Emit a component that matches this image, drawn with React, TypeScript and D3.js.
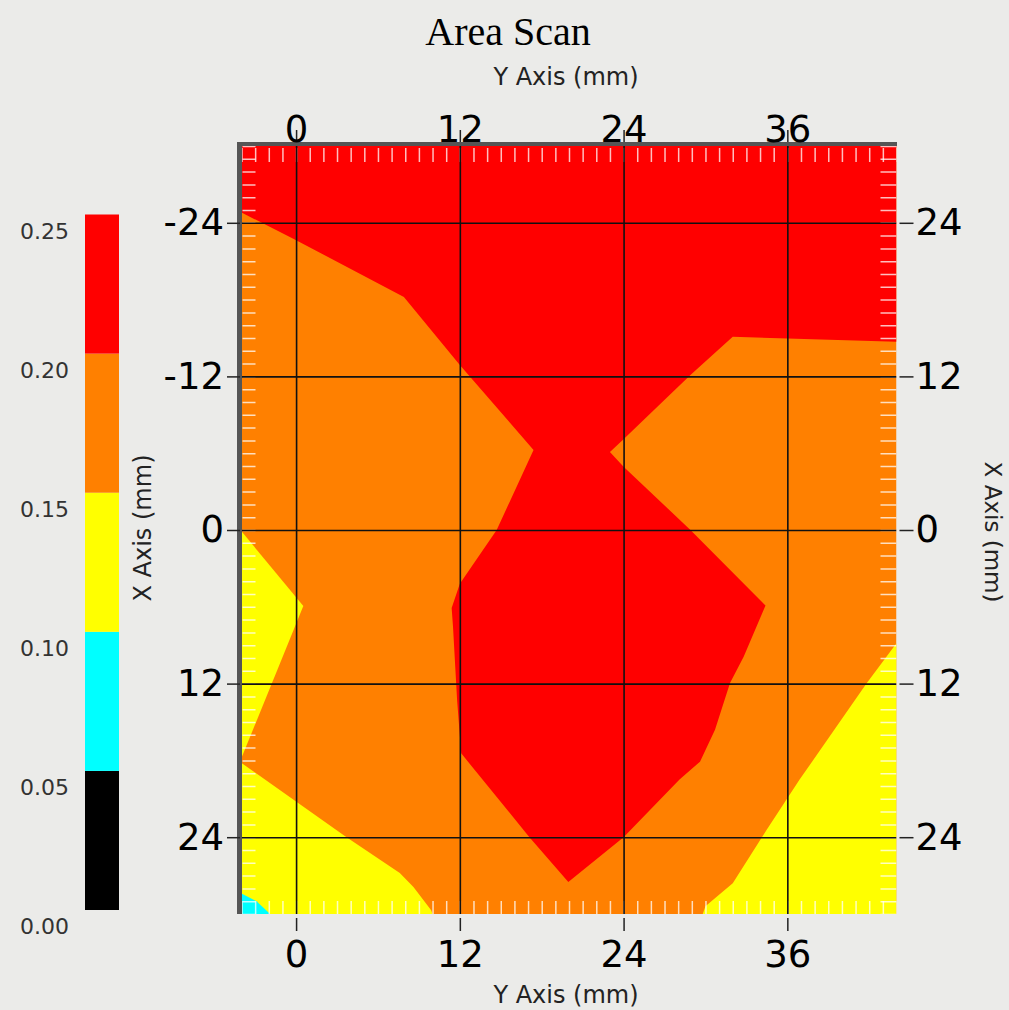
import { useRef, useEffect } from 'react';
import * as d3 from 'd3';

type Pt = [number, number]; // [Y axis mm (horizontal), X axis mm (vertical)]

const WIDTH = 1009;
const HEIGHT = 1010;

const title = 'Area Scan';
const hTitle = 'Y Axis (mm)';
const vTitle = 'X Axis (mm)';

const hDomain = [-4, 44];
const vDomain = [-30, 30];
const hTicks = [0, 12, 24, 36];
const vTicks = [-24, -12, 0, 12, 24];

// colour bar
const levels = [0, 0.05, 0.1, 0.15, 0.2, 0.25];
const levelLabels = ['0.00', '0.05', '0.10', '0.15', '0.20', '0.25'];
const levelColors = ['#000000', '#00ffff', '#ffff00', '#ff8000', '#ff0000'];

// contour zones, vertices (mm)
const scanArea: Pt[] = [[-4, -30], [44, -30], [44, 30], [-4, 30]];
const redZone: Pt[] = [
  [-4, -30], [44, -30], [44, -14.7], [32.0, -15.1], [28.9, -12.1], [23.9, -7.0],
  [23.0, -6.1], [24.0, -4.95], [28.9, 0], [34.4, 5.9], [32.8, 9.9], [31.8, 11.95],
  [30.7, 15.6], [29.6, 18.1], [28.1, 19.5], [24.0, 24.0], [19.95, 27.5], [17.1, 24.0],
  [12.1, 17.45], [11.8, 13.3], [11.5, 7.55], [11.4, 6.1], [12.0, 4.2], [14.7, 0],
  [17.4, -6.25], [12.0, -12.9], [7.9, -18.2], [-0.1, -22.7], [-4, -24.8],
];
const yellowLeft: Pt[] = [[-4, 0.1], [0.53, 5.94], [-4, 17.8]];
const yellowBottomLeft: Pt[] = [
  [-4, 18.2], [3.7, 24.0], [7.6, 26.8], [8.6, 27.9], [9.9, 29.7], [10.0, 30], [-4, 30],
];
const yellowRight: Pt[] = [
  [29.8, 30], [30.0, 29.4], [32.0, 27.6], [34.5, 23.4], [36.9, 19.5], [41.8, 12.0], [44, 8.85], [44, 30],
];
const cyanCorner: Pt[] = [[-4, 28.4], [-2.9, 29.0], [-1.9, 30], [-4, 30]];

const zones: { value: number; pts: Pt[] }[] = [
  { value: 0.175, pts: scanArea },
  { value: 0.225, pts: redZone },
  { value: 0.125, pts: yellowLeft },
  { value: 0.125, pts: yellowBottomLeft },
  { value: 0.125, pts: yellowRight },
  { value: 0.075, pts: cyanCorner },
];

const FONT = '"DejaVu Sans", Verdana, sans-serif';

export default function App() {
  const svgRef = useRef<SVGSVGElement | null>(null);

  useEffect(() => {
    const svg = d3.select(svgRef.current);
    svg.selectAll('*').remove();

    const x = d3.scaleLinear().domain(hDomain).range([241.5, 896.5]);
    const y = d3.scaleLinear().domain(vDomain).range([146, 914]);
    const [x0, x1] = x.range();
    const [y0, y1] = y.range();

    const color = d3
      .scaleThreshold<number, string>()
      .domain(levels.slice(1, -1))
      .range(levelColors);

    svg.append('rect').attr('width', WIDTH).attr('height', HEIGHT).attr('fill', '#ebebe9');

    svg
      .append('clipPath')
      .attr('id', 'plot-clip')
      .append('rect')
      .attr('x', x0)
      .attr('y', y0)
      .attr('width', x1 - x0)
      .attr('height', y1 - y0);

    const plot = svg.append('g').attr('clip-path', 'url(#plot-clip)');

    const line = d3
      .line<Pt>()
      .x(d => x(d[0]))
      .y(d => y(d[1]));

    plot
      .selectAll('path.zone')
      .data(zones)
      .join('path')
      .attr('class', 'zone')
      .attr('d', d => line(d.pts) + 'Z')
      .attr('fill', d => color(d.value));

    // minor ticks inside the frame, every mm
    const minorH = d3.range(hDomain[0], hDomain[1] + 1);
    const minorV = d3.range(vDomain[0], vDomain[1] + 1);
    const minorStyle = (g: d3.Selection<SVGGElement, unknown, null, undefined>) => {
      g.select('.domain').remove();
      g.selectAll('text').remove();
      g.selectAll('line').attr('stroke', 'rgba(255,255,255,0.75)').attr('stroke-width', 1.5);
    };
    plot
      .append('g')
      .attr('transform', `translate(0,${y0 + 2})`)
      .call(d3.axisTop(x).tickValues(minorH).tickSize(-14))
      .call(minorStyle);
    plot
      .append('g')
      .attr('transform', `translate(0,${y1})`)
      .call(d3.axisBottom(x).tickValues(minorH).tickSize(-13))
      .call(minorStyle);
    plot
      .append('g')
      .attr('transform', `translate(${x0 + 1},0)`)
      .call(d3.axisLeft(y).tickValues(minorV).tickSize(-13))
      .call(minorStyle);
    plot
      .append('g')
      .attr('transform', `translate(${x1},0)`)
      .call(d3.axisRight(y).tickValues(minorV).tickSize(-16))
      .call(minorStyle);

    // grid
    const gridStyle = (g: d3.Selection<SVGGElement, unknown, null, undefined>) => {
      g.select('.domain').remove();
      g.selectAll('text').remove();
      g.selectAll('line').attr('stroke', '#111').attr('stroke-width', 1.6);
    };
    plot
      .append('g')
      .attr('transform', `translate(0,${y1})`)
      .call(d3.axisBottom(x).tickValues(hTicks).tickSize(-(y1 - y0)))
      .call(gridStyle);
    plot
      .append('g')
      .attr('transform', `translate(${x0},0)`)
      .call(d3.axisLeft(y).tickValues(vTicks).tickSize(-(x1 - x0)))
      .call(gridStyle);

    // frame: dark inset edges on top and left
    svg
      .append('rect')
      .attr('x', x0 - 4.5)
      .attr('y', y0 - 4)
      .attr('width', x1 - x0 + 5)
      .attr('height', 4)
      .attr('fill', '#555');
    svg
      .append('rect')
      .attr('x', x0 - 4.5)
      .attr('y', y0 - 4)
      .attr('width', 5)
      .attr('height', y1 - y0 + 4)
      .attr('fill', '#555');

    // outer axes
    const outerStyle = (g: d3.Selection<SVGGElement, unknown, null, undefined>) => {
      g.select('.domain').remove();
      g.selectAll('line').attr('stroke', '#222').attr('stroke-width', 1.5);
      g.selectAll('text')
        .attr('font-family', FONT)
        .attr('font-size', 37)
        .attr('fill', '#000');
    };
    svg
      .append('g')
      .attr('transform', `translate(0,${y0 - 4})`)
      .call(d3.axisTop(x).tickValues(hTicks).tickSize(12).tickPadding(-12).tickFormat(d => String(d)))
      .call(outerStyle);
    svg
      .append('g')
      .attr('transform', `translate(0,${y1 + 4})`)
      .call(d3.axisBottom(x).tickValues(hTicks).tickSize(13).tickPadding(10).tickFormat(d => String(d)))
      .call(outerStyle);
    svg
      .append('g')
      .attr('transform', `translate(${x0 - 1.5},0)`)
      .call(d3.axisLeft(y).tickValues(vTicks).tickSize(13).tickPadding(3).tickFormat(d => String(d)))
      .call(outerStyle);
    svg
      .append('g')
      .attr('transform', `translate(${x1 + 3},0)`)
      .call(
        d3
          .axisRight(y)
          .tickValues(vTicks)
          .tickSize(14)
          .tickPadding(2)
          .tickFormat(d => String(Math.abs(+d))),
      )
      .call(outerStyle);

    // titles
    svg
      .append('text')
      .attr('x', 508)
      .attr('y', 45)
      .attr('text-anchor', 'middle')
      .attr('font-family', '"Liberation Serif", "Times New Roman", serif')
      .attr('font-size', 40)
      .attr('fill', '#000')
      .text(title);

    const axisTitle = (sel: d3.Selection<SVGTextElement, unknown, null, undefined>) =>
      sel
        .attr('text-anchor', 'middle')
        .attr('font-family', FONT)
        .attr('font-size', 24)
        .attr('fill', '#222');

    svg.append('text').attr('x', 566).attr('y', 85).text(hTitle).call(axisTitle);
    svg.append('text').attr('x', 566).attr('y', 1003).text(hTitle).call(axisTitle);
    svg
      .append('text')
      .attr('transform', 'translate(151,528) rotate(-90)')
      .text(vTitle)
      .call(axisTitle);
    svg
      .append('text')
      .attr('transform', 'translate(985,532) rotate(90)')
      .text(vTitle)
      .call(axisTitle)
      .attr('font-size', 23);

    // colour bar
    const cb = d3.scaleLinear().domain([levels[0], levels[levels.length - 1]]).range([910, 214.5]);
    const bands = levels.slice(0, -1).map((lo, i) => ({ lo, hi: levels[i + 1] }));
    svg
      .selectAll('rect.band')
      .data(bands)
      .join('rect')
      .attr('class', 'band')
      .attr('x', 85)
      .attr('width', 34)
      .attr('y', d => cb(d.hi))
      .attr('height', d => cb(d.lo) - cb(d.hi))
      .attr('fill', d => color((d.lo + d.hi) / 2));

    svg
      .selectAll('text.level')
      .data(levels)
      .join('text')
      .attr('class', 'level')
      .attr('x', 20)
      .attr('y', d => cb(d) + 24)
      .attr('font-family', FONT)
      .attr('font-size', 22)
      .attr('fill', '#333')
      .text((_d, i) => levelLabels[i]);
  }, []);

  return (
    <svg
      ref={svgRef}
      width={WIDTH}
      height={HEIGHT}
      style={{ position: 'absolute', left: 0, top: 0, display: 'block' }}
    />
  );
}
